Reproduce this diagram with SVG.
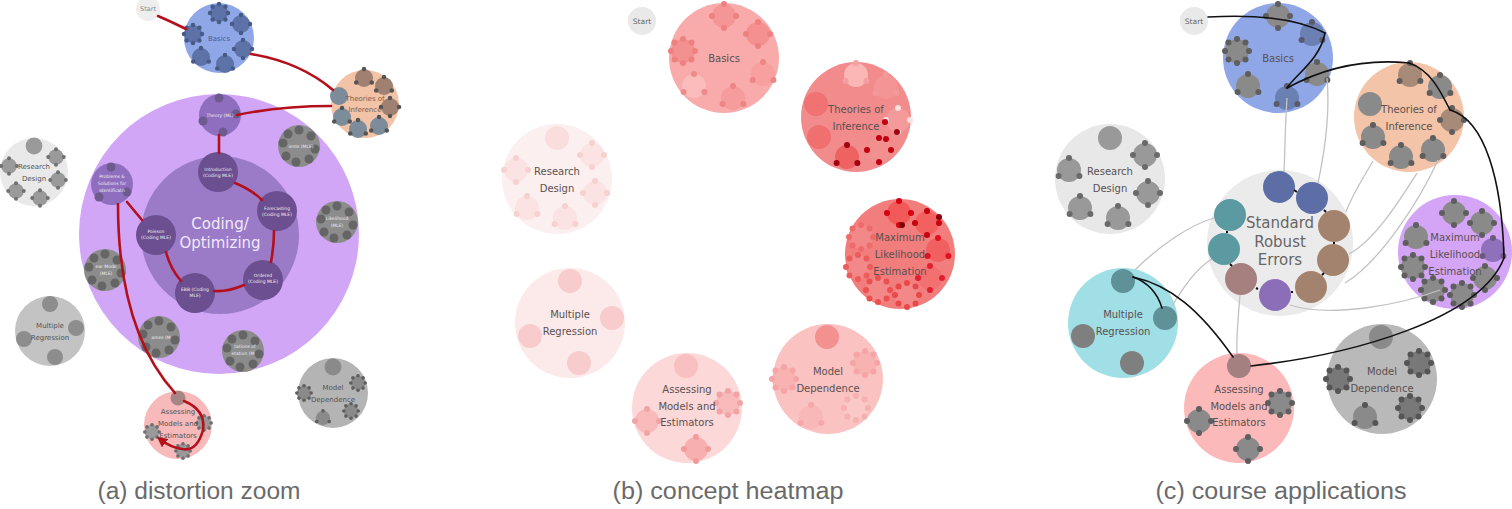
<svg xmlns="http://www.w3.org/2000/svg" xmlns:xlink="http://www.w3.org/1999/xlink" width="1512" height="509" viewBox="0 0 1512 509">
<style>
text{font-family:"DejaVu Sans","Liberation Sans",sans-serif;text-anchor:middle;}
.lbl{font-size:10px;fill:#5a5050;}
.la{font-size:7px;fill:#555;}
.tiny{font-size:4.5px;fill:#eee;}
.cap{font-family:"Liberation Sans",sans-serif;font-size:23px;fill:#6a6a6a;font-weight:300;}
.red{fill:none;stroke:#b3101c;stroke-width:2.6;stroke-linecap:round;}
.blk{fill:none;stroke:#111;stroke-width:1.6;stroke-linecap:round;}
.gry{fill:none;stroke:#c2c2c2;stroke-width:1.3;}
.join{stroke:#111;stroke-width:2;}
</style>
<defs>
<g id="s0"><circle r="12"/></g>
<g id="s3"><circle r="12"/><g fill="currentColor"><circle cx="0" cy="-12" r="3"/><circle cx="10.4" cy="6" r="3"/><circle cx="-10.4" cy="6" r="3"/></g></g>
<g id="s4"><circle r="12"/><g fill="currentColor"><circle cx="0" cy="-12" r="3"/><circle cx="12" cy="0" r="3"/><circle cx="0" cy="12" r="3"/><circle cx="-12" cy="0" r="3"/></g></g>
<g id="s6"><circle r="12"/><g fill="currentColor"><circle cx="12" cy="0" r="3"/><circle cx="6" cy="10.4" r="3"/><circle cx="-6" cy="10.4" r="3"/><circle cx="-12" cy="0" r="3"/><circle cx="-6" cy="-10.4" r="3"/><circle cx="6" cy="-10.4" r="3"/></g></g>
<g id="s8"><circle r="12"/><g fill="currentColor"><circle cx="12" cy="0" r="3"/><circle cx="8.5" cy="8.5" r="3"/><circle cx="0" cy="12" r="3"/><circle cx="-8.5" cy="8.5" r="3"/><circle cx="-12" cy="0" r="3"/><circle cx="-8.5" cy="-8.5" r="3"/><circle cx="0" cy="-12" r="3"/><circle cx="8.5" cy="-8.5" r="3"/></g></g>
<g id="a8"><circle r="21"/><g fill="currentColor"><circle cx="0" cy="-16" r="4.5"/><circle cx="12" cy="-10" r="4.5"/><circle cx="16" cy="3" r="4.5"/><circle cx="10" cy="13" r="4.5"/><circle cx="-3" cy="16" r="4.5"/><circle cx="-13" cy="10" r="4.5"/><circle cx="-16" cy="-3" r="4.5"/><circle cx="-11" cy="-12" r="4.5"/></g></g>
<marker id="arr" viewBox="0 0 10 10" refX="5" refY="5" markerWidth="4" markerHeight="4" orient="auto"><path d="M0,0 L10,5 L0,10 z" fill="#b3101c"/></marker>
</defs>

<!-- ================= PANEL A ================= -->
<g id="a-coding">
<circle cx="219" cy="234" r="140" fill="#d1a6f7"/>
<circle cx="220" cy="235" r="79" fill="#9b7bc8"/>
<text x="220" y="229" font-size="15" fill="#f1e8fb">Coding/</text>
<text x="220" y="248" font-size="15" fill="#f1e8fb">Optimizing</text>
</g>
<g id="a-start"><circle cx="148" cy="9" r="12" fill="#eeeeee"/><text x="148" y="11" font-size="6.5" fill="#888">Start</text></g>
<g id="a-basics">
<circle cx="219" cy="38" r="35" fill="#8fa7e6"/>
<g fill="#5d72a6" color="#485a86">
<use href="#s8" transform="translate(219,13) scale(0.75)"/>
<use href="#s4" transform="translate(241,24) scale(0.75)"/>
<use href="#s8" transform="translate(193,34) scale(0.75)"/>
<use href="#s4" transform="translate(243,49) scale(0.75)"/>
<use href="#s3" transform="translate(201,57) scale(0.75)"/>
<use href="#s3" transform="translate(225,64) scale(0.75)"/>
</g>
<text x="219" y="41" font-size="7" fill="#4a5a8c">Basics</text>
</g>
<g id="a-theories">
<circle cx="365" cy="104" r="34" fill="#f2c3a6"/>
<g color="#555">
<use href="#s3" fill="#a08070" transform="translate(364,78) scale(0.75)"/>
<use href="#s3" fill="#a08070" transform="translate(384,86) scale(0.75)"/>
<use href="#s0" fill="#7d8c9a" transform="translate(339,96) scale(0.75)"/>
<use href="#s4" fill="#a08070" transform="translate(390,107) scale(0.75)"/>
<use href="#s3" fill="#7d8c9a" transform="translate(342,117) scale(0.75)"/>
<use href="#s3" fill="#7d8c9a" transform="translate(358,129) scale(0.75)"/>
<use href="#s3" fill="#7d8c9a" transform="translate(379,126) scale(0.75)"/>
</g>
<text x="365" y="101" font-size="7" fill="#7a6050">Theories of</text>
<text x="365" y="112" font-size="7" fill="#7a6050">Inference</text>
</g>
<g id="a-theory-ml">
<circle cx="220" cy="115" r="21" fill="#8f6ec0"/>
<g fill="#6f5a8e"><circle cx="219" cy="98" r="4.5"/><circle cx="236" cy="114" r="4.5"/><circle cx="223" cy="132" r="4.5"/><circle cx="203" cy="121" r="4.5"/></g>
<text class="tiny" x="220" y="117">Theory (ML)</text>
</g>
<g id="a-problems">
<circle cx="112" cy="184" r="21" fill="#8f6ec0"/>
<g fill="#6f5a8e"><circle cx="111" cy="167" r="4.5"/><circle cx="127" cy="192" r="4.5"/><circle cx="99" cy="197" r="4.5"/></g>
<text class="tiny" x="112" y="178">Problems &amp;</text><text class="tiny" x="112" y="185">Solutions for</text><text class="tiny" x="112" y="192">Identificatn</text>
</g>
<g id="a-intro"><circle cx="218" cy="172" r="20" fill="#6b4f91"/><text class="tiny" x="218" y="171">Introduction</text><text class="tiny" x="218" y="177">(Coding MLE)</text></g>
<g id="a-forecast"><circle cx="277" cy="211" r="20" fill="#6b4f91"/><text class="tiny" x="277" y="210">Forecasting</text><text class="tiny" x="277" y="216">(Coding MLE)</text></g>
<g id="a-ordered"><circle cx="263" cy="280" r="20" fill="#6b4f91"/><text class="tiny" x="263" y="277">Ordered</text><text class="tiny" x="263" y="283">(Coding MLE)</text></g>
<g id="a-ebb"><circle cx="195" cy="293" r="20" fill="#6b4f91"/><text class="tiny" x="195" y="291">EBB (Coding</text><text class="tiny" x="195" y="297">MLE)</text></g>
<g id="a-poisson"><circle cx="156" cy="235" r="20" fill="#6b4f91"/><text class="tiny" x="156" y="233">Poisson</text><text class="tiny" x="156" y="239">(Coding MLE)</text></g>
<g id="a-gradients"><use href="#a8" x="299" y="146" fill="#8c8c8c" color="#656565"/><text class="tiny" x="301" y="148">ients (MLE)</text></g>
<g id="a-likelihood"><use href="#a8" x="337" y="222" fill="#8c8c8c" color="#656565"/><text class="tiny" x="337" y="220">Likelihood</text><text class="tiny" x="337" y="227">(MLE)</text></g>
<g id="a-linear"><use href="#a8" x="105" y="270" fill="#8c8c8c" color="#656565"/><text class="tiny" x="106" y="268">ear Mode</text><text class="tiny" x="106" y="275">(MLE)</text></g>
<g id="a-frames"><use href="#a8" x="159" y="337" fill="#8c8c8c" color="#656565"/><text class="tiny" x="161" y="339">ames (M</text></g>
<g id="a-interp"><use href="#a8" x="243" y="351" fill="#8c8c8c" color="#656565"/><text class="tiny" x="245" y="348">tations of</text><text class="tiny" x="243" y="355">etation (M</text></g>
<g id="a-research">
<circle cx="34" cy="172" r="34" fill="#e9e9e9"/>
<g fill="#9a9a9a" color="#6f6f6f">
<use href="#s0" transform="translate(34,146) scale(0.7)"/>
<use href="#s4" transform="translate(56,157) scale(0.65)"/>
<use href="#s4" transform="translate(9,166) scale(0.65)"/>
<use href="#s4" transform="translate(58,180) scale(0.65)"/>
<use href="#s4" transform="translate(16,191) scale(0.65)"/>
<use href="#s4" transform="translate(40,198) scale(0.65)"/>
</g>
<text class="la" x="34" y="169">Research</text><text class="la" x="34" y="181">Design</text>
</g>
<g id="a-multreg">
<circle cx="50" cy="331" r="35" fill="#c3c3c3"/>
<g fill="#8d8d8d">
<circle cx="50" cy="304" r="8"/><circle cx="76" cy="328" r="8"/><circle cx="24" cy="339" r="8"/><circle cx="55" cy="357" r="8"/>
</g>
<text class="la" x="50" y="328">Multiple</text><text class="la" x="50" y="340">Regression</text>
</g>
<g id="a-modeldep">
<circle cx="333" cy="393" r="35" fill="#b4b4b4"/>
<g fill="#8a8a8a" color="#5e5e5e">
<use href="#s0" transform="translate(333,367) scale(0.7)"/>
<use href="#s8" transform="translate(358,383) scale(0.6)"/>
<use href="#s8" transform="translate(304,393) scale(0.6)"/>
<use href="#s8" transform="translate(351,411) scale(0.6)"/>
<use href="#s3" transform="translate(323,418) scale(0.6)"/>
</g>
<text class="la" x="333" y="390">Model</text><text class="la" x="333" y="402">Dependence</text>
</g>
<g id="a-assessing">
<circle cx="178" cy="425" r="34" fill="#f7b9b9"/>
<circle cx="178" cy="398" r="7.5" fill="#a88585"/>
<g fill="#999" color="#6e6e6e">
<use href="#s8" transform="translate(204,423) scale(0.6)"/>
<use href="#s8" transform="translate(152,432) scale(0.6)"/>
<use href="#s8" transform="translate(183,451) scale(0.6)"/>
</g>
<text class="la" x="178" y="414" fill="#8a6060">Assessing</text><text class="la" x="178" y="426" fill="#8a6060">Models and</text><text class="la" x="178" y="438" fill="#8a6060">Estimators</text>
</g>
<g id="a-connectors">
<path class="red" d="M158,16 Q172,22 186,29"/>
<path class="red" d="M251,54 Q300,62 333,90"/>
<path class="red" d="M331,106 Q280,106 237,115"/>
<path class="red" d="M219,135 L219,153"/>
<path class="red" d="M235,183 Q252,190 262,200"/>
<path class="red" d="M274,231 Q274,246 271,262"/>
<path class="red" d="M244,285 Q228,292 214,291"/>
<path class="red" d="M181,281 Q170,268 166,252"/>
<path class="red" d="M142,220 L127,202"/>
<path class="red" d="M118,204 Q118,330 175,393"/>
<path class="red" d="M184,401 Q206,410 203,430 Q197,452 182,449 Q170,447 161,440" marker-end="url(#arr)"/>
</g>

<!-- ================= PANEL B ================= -->
<g id="b-start"><circle cx="642" cy="21" r="14" fill="#e9e9e9"/><text x="642" y="24" font-size="7.5" fill="#666">Start</text></g>
<g id="b-basics">
<circle cx="724" cy="58" r="55" fill="#f9abab"/>
<use href="#s4" x="724" y="16" fill="#f59696" color="#ee8080"/>
<use href="#s4" x="758" y="34" fill="#f49090" color="#ee8080"/>
<use href="#s8" x="683" y="51" fill="#f39090" color="#ee8080"/>
<use href="#s3" x="763" y="74" fill="#f89f9f" color="#ee8585"/>
<use href="#s3" x="694" y="86" fill="#fbbcbc" color="#ef8a8a"/>
<use href="#s3" x="733" y="98" fill="#f79c9c" color="#ee8585"/>
<text class="lbl" x="724" y="62">Basics</text>
</g>
<g id="b-theories">
<circle cx="856" cy="117" r="55" fill="#f28c8c"/>
<use href="#s3" x="856" y="75" fill="#fbb6b6" color="#f4a0a0"/>
<use href="#s3" x="886" y="87" fill="#f49494" color="#f29a9a"/>
<use href="#s0" x="816" y="104" fill="#f07272"/>
<use href="#s4" x="898" y="120" fill="#f49a9a" color="#fde0e0"/>
<use href="#s0" x="819" y="137" fill="#f07070"/>
<use href="#s3" x="847" y="157" fill="#ee6262" color="#a30010"/>
<use href="#s4" x="879" y="150" fill="#f29090" color="#c00010"/>
<circle cx="897" cy="132" r="3" fill="#a00010"/><circle cx="886" cy="139" r="3" fill="#c00010"/><circle cx="885" cy="122" r="3" fill="#c00010"/>
<text class="lbl" x="856" y="113">Theories of</text><text class="lbl" x="856" y="130">Inference</text>
</g>
<g id="b-research">
<circle cx="557" cy="179" r="55" fill="#fcefef"/>
<use href="#s0" x="557" y="138" fill="#fadede"/>
<use href="#s4" x="592" y="155" fill="#fbe3e3" color="#f7d0d0"/>
<use href="#s4" x="516" y="170" fill="#fbe3e3" color="#f7d0d0"/>
<use href="#s4" x="595" y="193" fill="#fbe3e3" color="#f7d0d0"/>
<use href="#s3" x="527" y="208" fill="#fbe3e3" color="#f7d0d0"/>
<use href="#s3" x="565" y="218" fill="#fbe3e3" color="#f7d0d0"/>
<text class="lbl" x="557" y="175">Research</text><text class="lbl" x="557" y="192">Design</text>
</g>
<g id="b-mle">
<circle cx="900" cy="254" r="55" fill="#f27d7d"/>
<use href="#s4" x="899" y="213" fill="#f25a5a" color="#d8000f"/>
<use href="#s4" x="927" y="223" fill="#f26060" color="#c8000f"/>
<use href="#s8" x="861" y="237" fill="#f38888" color="#ee6b6b"/>
<use href="#s3" x="938" y="250" fill="#f06060" color="#e01020"/>
<use href="#s8" x="858" y="267" fill="#f38888" color="#ec5c5c"/>
<use href="#s4" x="930" y="278" fill="#f27070" color="#e02030"/>
<use href="#s8" x="878" y="290" fill="#f38888" color="#ea5050"/>
<use href="#s8" x="907" y="295" fill="#f38888" color="#e84848"/>
<circle cx="902" cy="225" r="3" fill="#800008"/><circle cx="939" cy="217" r="3" fill="#900008"/>
<text class="lbl" x="900" y="241">Maximum</text><text class="lbl" x="900" y="258">Likelihood</text><text class="lbl" x="900" y="275">Estimation</text>
</g>
<g id="b-multreg">
<circle cx="570" cy="323" r="55" fill="#fceaea"/>
<g fill="#f8cccc"><circle cx="570" cy="281" r="12"/><circle cx="612" cy="318" r="12"/><circle cx="530" cy="336" r="12"/><circle cx="579" cy="363" r="12"/></g>
<text class="lbl" x="570" y="318">Multiple</text><text class="lbl" x="570" y="335">Regression</text>
</g>
<g id="b-assessing">
<circle cx="687" cy="408" r="55" fill="#fcd8d8"/>
<use href="#s0" x="686" y="366" fill="#f8c0c0"/>
<use href="#s8" x="728" y="403" fill="#f8baba" color="#f2a4a4"/>
<use href="#s4" x="647" y="421" fill="#f8baba" color="#f2a4a4"/>
<use href="#s4" x="696" y="449" fill="#f7afaf" color="#f29b9b"/>
<text class="lbl" x="687" y="393">Assessing</text><text class="lbl" x="687" y="410">Models and</text><text class="lbl" x="687" y="426">Estimators</text>
</g>
<g id="b-modeldep">
<circle cx="828" cy="379" r="55" fill="#fbc2c2"/>
<use href="#s0" x="827" y="337" fill="#f39090"/>
<use href="#s8" x="865" y="363" fill="#f9b2b2" color="#f5a5a5"/>
<use href="#s8" x="784" y="379" fill="#f9b2b2" color="#f5a5a5"/>
<use href="#s8" x="856" y="408" fill="#fbc8c8" color="#f5b0b0"/>
<use href="#s3" x="811" y="417" fill="#f9b8b8" color="#f5a8a8"/>
<text class="lbl" x="828" y="375">Model</text><text class="lbl" x="828" y="392">Dependence</text>
</g>

<!-- ================= PANEL C ================= -->
<g id="c-start"><circle cx="1194" cy="21" r="14" fill="#e9e9e9"/><text x="1194" y="24" font-size="7.5" fill="#666">Start</text></g>
<g id="c-basics">
<circle cx="1278" cy="58" r="55" fill="#8fa7e6"/>
<use href="#s4" x="1278" y="16" fill="#8a8a8a" color="#5e5e5e"/>
<use href="#s3" x="1312" y="34" fill="#6a7fb2" color="#5a5a6a"/>
<use href="#s8" x="1237" y="51" fill="#8a8a8a" color="#5e5e5e"/>
<use href="#s3" x="1317" y="74" fill="#8a8a8a" color="#5e5e5e"/>
<use href="#s3" x="1248" y="86" fill="#8a8a8a" color="#5e5e5e"/>
<use href="#s3" x="1287" y="98" fill="#6a7fb2" color="#5a5a6a"/>
<text class="lbl" x="1278" y="62" fill="#4a5a8c">Basics</text>
</g>
<g id="c-theories">
<circle cx="1409" cy="117" r="55" fill="#f3c4a8"/>
<use href="#s3" x="1410" y="75" fill="#a88a78" color="#5e5e5e"/>
<use href="#s3" x="1440" y="87" fill="#8a8a8a" color="#5e5e5e"/>
<use href="#s0" x="1370" y="104" fill="#8a8a8a"/>
<use href="#s4" x="1452" y="120" fill="#a88a78" color="#5e5e5e"/>
<use href="#s3" x="1373" y="137" fill="#8a8a8a" color="#5e5e5e"/>
<use href="#s3" x="1401" y="157" fill="#8a8a8a" color="#5e5e5e"/>
<use href="#s3" x="1433" y="150" fill="#8a8a8a" color="#5e5e5e"/>
<text class="lbl" x="1409" y="113" fill="#8a6a58">Theories of</text><text class="lbl" x="1409" y="130" fill="#8a6a58">Inference</text>
</g>
<g id="c-research">
<circle cx="1110" cy="179" r="55" fill="#e8e8e8"/>
<use href="#s0" x="1110" y="138" fill="#999"/>
<use href="#s4" x="1145" y="155" fill="#999" color="#6a6a6a"/>
<use href="#s3" x="1069" y="170" fill="#999" color="#6a6a6a"/>
<use href="#s4" x="1148" y="193" fill="#999" color="#6a6a6a"/>
<use href="#s3" x="1080" y="208" fill="#999" color="#6a6a6a"/>
<use href="#s3" x="1118" y="218" fill="#999" color="#6a6a6a"/>
<text class="lbl" x="1110" y="175" fill="#666">Research</text><text class="lbl" x="1110" y="192" fill="#666">Design</text>
</g>
<g id="c-mle">
<circle cx="1455" cy="252" r="57" fill="#d4a4f6"/>
<use href="#s4" x="1454" y="213" fill="#8a8a8a" color="#5e5e5e"/>
<use href="#s4" x="1482" y="223" fill="#8a8a8a" color="#5e5e5e"/>
<use href="#s3" x="1416" y="237" fill="#8a8a8a" color="#5e5e5e"/>
<use href="#s3" x="1493" y="250" fill="#8f70ba" color="#6a5a80"/>
<use href="#s8" x="1413" y="267" fill="#8a8a8a" color="#5e5e5e"/>
<use href="#s4" x="1485" y="278" fill="#8a8a8a" color="#5e5e5e"/>
<use href="#s8" x="1433" y="290" fill="#8a8a8a" color="#5e5e5e"/>
<use href="#s8" x="1462" y="295" fill="#8a8a8a" color="#5e5e5e"/>
<text class="lbl" x="1455" y="241" fill="#7a55a8">Maximum</text><text class="lbl" x="1455" y="258" fill="#7a55a8">Likelihood</text><text class="lbl" x="1455" y="275" fill="#7a55a8">Estimation</text>
</g>
<g id="c-multreg">
<circle cx="1123" cy="323" r="55" fill="#a0dfe6"/>
<g fill="#5f9198"><circle cx="1123" cy="281" r="12"/><circle cx="1165" cy="318" r="12"/></g>
<g fill="#7f7f7f"><circle cx="1083" cy="336" r="12"/><circle cx="1132" cy="363" r="12"/></g>
<text class="lbl" x="1123" y="318" fill="#3f6f75">Multiple</text><text class="lbl" x="1123" y="335" fill="#3f6f75">Regression</text>
</g>
<g id="c-assessing">
<circle cx="1239" cy="408" r="55" fill="#fcb9b9"/>
<circle cx="1239" cy="366" r="12" fill="#a58080"/>
<use href="#s8" x="1280" y="403" fill="#8a8a8a" color="#5e5e5e"/>
<use href="#s4" x="1199" y="421" fill="#8a8a8a" color="#5e5e5e"/>
<use href="#s4" x="1248" y="449" fill="#8a8a8a" color="#5e5e5e"/>
<text class="lbl" x="1239" y="393" fill="#8a5a5a">Assessing</text><text class="lbl" x="1239" y="410" fill="#8a5a5a">Models and</text><text class="lbl" x="1239" y="426" fill="#8a5a5a">Estimators</text>
</g>
<g id="c-modeldep">
<circle cx="1382" cy="379" r="55" fill="#b9b9b9"/>
<use href="#s0" x="1381" y="337" fill="#8a8a8a"/>
<use href="#s8" x="1419" y="363" fill="#787878" color="#555"/>
<use href="#s8" x="1338" y="379" fill="#787878" color="#555"/>
<use href="#s8" x="1410" y="408" fill="#787878" color="#555"/>
<use href="#s3" x="1365" y="417" fill="#8a8a8a" color="#555"/>
<text class="lbl" x="1382" y="375" fill="#555">Model</text><text class="lbl" x="1382" y="392" fill="#555">Dependence</text>
</g>
<g id="c-sre">
<circle cx="1280" cy="243" r="73" fill="#ebebeb"/>
<text x="1280" y="228" font-size="15" fill="#666">Standard</text>
<text x="1280" y="247" font-size="15" fill="#666">Robust</text>
<text x="1280" y="265" font-size="15" fill="#666">Errors</text>
</g>
<g id="c-connectors">
<path class="gry" d="M1287,98 C1285,130 1285,150 1284,172"/>
<path class="gry" d="M1327,78 C1330,110 1325,150 1318,183"/>
<path class="gry" d="M1373,161 C1362,180 1352,195 1346,212"/>
<path class="gry" d="M1417,173 C1400,200 1375,240 1349,254"/>
<path class="gry" d="M1438,160 C1420,200 1380,262 1345,283"/>
<path class="gry" d="M1440,290 C1400,305 1330,318 1290,305"/>
<path class="gry" d="M1214,218 C1190,225 1160,245 1135,270"/>
<path class="gry" d="M1213,258 C1195,270 1185,285 1172,306"/>
<path class="gry" d="M1240,295 C1238,320 1236,340 1237,354"/>
<path class="blk" d="M1208,17 C1260,14 1300,20 1325,33"/>
<path class="blk" d="M1325,33 C1320,60 1295,75 1287,88"/>
<path class="blk" d="M1287,88 C1320,70 1360,58 1409,63"/>
<path class="blk" d="M1409,63 C1430,70 1440,90 1450,110"/>
<path class="blk" d="M1450,110 C1485,120 1502,180 1504,258"/>
<path class="blk" d="M1504,258 C1480,320 1350,355 1251,366"/>
<path class="blk" d="M1233,357 C1200,310 1170,285 1133,277"/>
<path class="blk" d="M1133,277 C1150,283 1158,295 1162,308"/>
</g>
<g id="c-sre-items">
<circle cx="1279" cy="187" r="16" fill="#5d6ea6"/>
<circle cx="1312" cy="198" r="16" fill="#5d6ea6"/>
<circle cx="1334" cy="226" r="16" fill="#a4836e"/>
<circle cx="1333" cy="260" r="16" fill="#a4836e"/>
<circle cx="1311" cy="287" r="16" fill="#a4836e"/>
<circle cx="1275" cy="295" r="16" fill="#8b6db8"/>
<circle cx="1241" cy="279" r="16" fill="#a67f7f"/>
<circle cx="1224" cy="249" r="16" fill="#5a9aa0"/>
<circle cx="1230" cy="215" r="16" fill="#5a9aa0"/>
<g class="join">
<line x1="1294" y1="190" x2="1297" y2="192"/>
<line x1="1324" y1="210" x2="1326" y2="212"/>
<line x1="1334" y1="242" x2="1334" y2="244"/>
<line x1="1324" y1="273" x2="1322" y2="275"/>
<line x1="1293" y1="292" x2="1291" y2="292"/>
<line x1="1258" y1="289" x2="1256" y2="288"/>
<line x1="1230" y1="264" x2="1232" y2="266"/>
<line x1="1227" y1="231" x2="1227" y2="233"/>
</g>
</g>

<!-- captions -->
<text class="cap" x="199" y="499" textLength="203" lengthAdjust="spacingAndGlyphs">(a) distortion zoom</text>
<text class="cap" x="728" y="499" textLength="231" lengthAdjust="spacingAndGlyphs">(b) concept heatmap</text>
<text class="cap" x="1281" y="499" textLength="251" lengthAdjust="spacingAndGlyphs">(c) course applications</text>
</svg>
